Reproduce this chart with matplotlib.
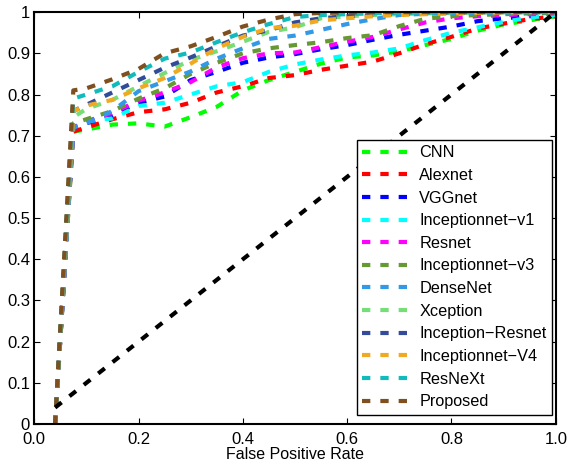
import matplotlib
matplotlib.use("Agg")
import matplotlib.pyplot as plt

plt.rcParams['font.family'] = ['Liberation Sans', 'DejaVu Sans']

fpr = [0.04, 0.075, 0.1, 0.15, 0.2, 0.25, 0.3, 0.35, 0.4, 0.45, 0.5,
       0.55, 0.6, 0.65, 0.7, 0.75, 0.8, 0.85, 0.9, 0.95, 1.0]

names = ['CNN', 'Alexnet', 'VGGnet', 'Inceptionnet\u2212v1', 'Resnet',
         'Inceptionnet\u2212v3', 'DenseNet', 'Xception', 'Inception\u2212Resnet',
         'Inceptionnet\u2212V4', 'ResNeXt', 'Proposed']

tpr_cnn = [0, 0.71, 0.715, 0.727, 0.73, 0.722, 0.745, 0.77, 0.81, 0.835, 0.855,
           0.875, 0.89, 0.895, 0.905, 0.92, 0.935, 0.955, 0.97, 0.98, 0.99]
tpr_alex = [0, 0.71, 0.72, 0.74, 0.757, 0.764, 0.78, 0.805, 0.82, 0.84, 0.847,
            0.86, 0.87, 0.88, 0.9, 0.922, 0.94, 0.96, 0.972, 0.983, 0.99]
tpr_vgg = [0, 0.72, 0.73, 0.75, 0.78, 0.795, 0.835, 0.855, 0.877, 0.89, 0.898,
           0.91, 0.92, 0.933, 0.945, 0.955, 0.965, 0.978, 0.985, 0.99, 0.995]
tpr_incv1 = [0, 0.72, 0.735, 0.742, 0.772, 0.78, 0.8, 0.82, 0.83, 0.855, 0.873,
             0.885, 0.895, 0.902, 0.912, 0.932, 0.95, 0.963, 0.976, 0.987, 0.993]
tpr_resnet = [0, 0.72, 0.735, 0.755, 0.785, 0.805, 0.83, 0.866, 0.888, 0.9, 0.902,
              0.915, 0.928, 0.94, 0.958, 0.975, 0.985, 0.99, 0.993, 0.995, 0.997]
tpr_incv3 = [0, 0.73, 0.74, 0.76, 0.79, 0.815, 0.85, 0.877, 0.9, 0.912, 0.92,
             0.927, 0.937, 0.944, 0.966, 0.984, 0.99, 0.993, 0.995, 0.997, 0.998]
tpr_dense = [0, 0.72, 0.73, 0.76, 0.808, 0.832, 0.856, 0.887, 0.912, 0.935, 0.943,
             0.957, 0.971, 0.983, 0.993, 0.996, 0.997, 0.998, 0.999, 1.0, 1.0]
tpr_xcep = [0, 0.745, 0.765, 0.787, 0.82, 0.852, 0.884, 0.905, 0.928, 0.952, 0.963,
            0.985, 0.99, 0.993, 0.995, 0.997, 0.998, 0.999, 1.0, 1.0, 1.0]
tpr_incres = [0, 0.76, 0.775, 0.805, 0.835, 0.865, 0.89, 0.917, 0.943, 0.956, 0.975,
              0.985, 0.99, 0.993, 0.995, 0.997, 0.998, 0.999, 1.0, 1.0, 1.0]
tpr_incv4 = [0, 0.76, 0.773, 0.787, 0.815, 0.84, 0.875, 0.912, 0.94, 0.961, 0.967,
             0.98, 0.985, 0.99, 0.993, 0.995, 0.997, 0.998, 0.999, 1.0, 1.0]
tpr_resnext = [0, 0.79, 0.8, 0.82, 0.855, 0.887, 0.902, 0.927, 0.951, 0.971, 0.988,
               0.993, 0.995, 0.997, 0.998, 0.999, 1.0, 1.0, 1.0, 1.0, 1.0]
tpr_prop = [0, 0.81, 0.815, 0.837, 0.862, 0.9, 0.917, 0.94, 0.965, 0.982, 0.995,
            0.998, 0.999, 1.0, 1.0, 1.0, 1.0, 1.0, 1.0, 1.0, 1.0]

tprs = [tpr_cnn, tpr_alex, tpr_vgg, tpr_incv1, tpr_resnet, tpr_incv3,
        tpr_dense, tpr_xcep, tpr_incres, tpr_incv4, tpr_resnext, tpr_prop]

colors = ['#00ff00', '#ff0000', '#0000ff', '#00ffff', '#ff00ff', '#669933',
          '#3399e6', '#77dd77', '#334c99', '#f0aa22', '#11bbbb', '#7f4f1f']

chance_x = [0.04, 1.0]
chance_y = [0.04, 1.0]

fig = plt.figure(figsize=(5.7, 4.66), dpi=100)
ax = fig.add_axes([0.06, 0.09, 0.915, 0.884])

for name, tpr, c in zip(names, tprs, colors):
    ax.plot(fpr, tpr, color=c, lw=3.0, dashes=(2, 2.4), label=name)
ax.plot(chance_x, chance_y, color='black', lw=3.0, dashes=(2, 2.4))

ax.set_xlim(0, 1)
ax.set_ylim(0, 1)
ax.set_xticks([0, 0.2, 0.4, 0.6, 0.8, 1.0])
ax.set_xticklabels(['0.0', '0.2', '0.4', '0.6', '0.8', '1.0'])
ax.set_yticks([i / 10 for i in range(11)])
ax.set_yticklabels(['0', '0.1', '0.2', '0.3', '0.4', '0.5', '0.6', '0.7',
                    '0.8', '0.9', '1'])
ax.tick_params(direction='in', top=True, right=True, labelsize=12, length=4)
ax.tick_params(axis='x', pad=6)
ax.tick_params(axis='y', pad=3)
for s in ax.spines.values():
    s.set_linewidth(1.5)
ax.set_xlabel('False Positive Rate', fontsize=11.5, labelpad=0)

leg = ax.legend(loc='lower right', fontsize=11.7, handlelength=3.0,
                handletextpad=0.5, fancybox=False, framealpha=1,
                edgecolor='black', borderpad=0.35, labelspacing=0.47,
                borderaxespad=0, bbox_to_anchor=(0.993, 0.022))
leg.get_frame().set_linewidth(1.0)

fig.savefig('out.png', dpi=100)
